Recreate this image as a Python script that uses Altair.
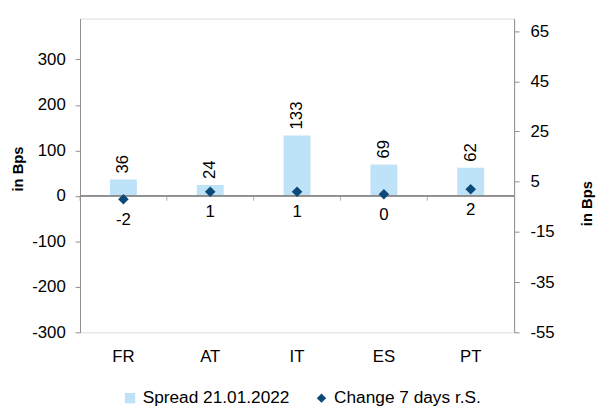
import altair as alt
import pandas as pd

countries = ["FR", "AT", "IT", "ES", "PT"]
spread = [36, 24, 133, 69, 62]
change = [-2, 1, 1, 0, 2]

left_ticks = [-300, -200, -100, 0, 100, 200, 300]
right_ticks = [-55, -35, -15, 5, 25, 45, 65]

SPREAD_LABEL = "Spread 21.01.2022"
CHANGE_LABEL = "Change 7 days r.S."

df = pd.DataFrame({
    "country": countries,
    "spread": spread,
    "change": change,
    "spread_txt": [str(v) for v in spread],
    "change_txt": [str(v) for v in change],
    "s1": SPREAD_LABEL,
    "s2": CHANGE_LABEL,
})

FONT = "Liberation Sans"
GRAY = "#8c8c8c"
BAR = "#BEE3F8"
DIA = "#0B4A78"

xenc = alt.X("country:N", sort=countries,
             scale=alt.Scale(paddingInner=0, paddingOuter=0),
             axis=alt.Axis(title=None, domain=False, ticks=False, tickSize=0,
                           labelAngle=0, labelPadding=17, labelFontSize=17,
                           labelFont=FONT, labelColor="#000"))

yleft = alt.Scale(domain=[-300, 390], nice=False, zero=False)
yright = alt.Scale(domain=[-55, 70], nice=False, zero=False)

left_axis = alt.Axis(title="in Bps", values=left_ticks, grid=False,
                     labelExpr="'' + datum.value",
                     domainColor=GRAY, tickColor=GRAY, tickSize=5,
                     labelPadding=10, labelFontSize=17, labelFont=FONT,
                     labelColor="#000", titleFont=FONT, titleFontSize=15,
                     titleFontWeight="bold", titleColor="#000",
                     titleX=-63, titleY=152, titleAngle=270,
                     titleAlign="center", titleBaseline="middle")

right_axis = alt.Axis(title="in Bps", orient="right", values=right_ticks, grid=False,
                      labelExpr="'' + datum.value",
                      domainColor=GRAY, tickColor=GRAY, tickSize=5,
                      labelPadding=11, labelFontSize=17, labelFont=FONT,
                      labelColor="#000", titleFont=FONT, titleFontSize=15,
                      titleFontWeight="bold", titleColor="#000",
                      titleX=73, titleY=187, titleAngle=270,
                      titleAlign="center", titleBaseline="middle")

base = alt.Chart(df)

bars = base.mark_bar(width=alt.RelativeBandSize(0.31)).encode(
    x=xenc,
    y=alt.Y("spread:Q", scale=yleft, axis=left_axis),
    color=alt.Color("s1:N", scale=alt.Scale(domain=[SPREAD_LABEL], range=[BAR]),
                    legend=alt.Legend(title=None, orient="none", legendX=42, legendY=376,
                                      symbolType="square", symbolSize=110,
                                      labelOffset=4,
                                      labelFontSize=17.5, labelFont=FONT,
                                      labelColor="#000", symbolStrokeWidth=0)),
)

bar_labels = base.mark_text(angle=270, align="left", baseline="middle", dx=6,
                            fontSize=17, font=FONT, color="#000").encode(
    x=alt.X("country:N", sort=countries),
    y=alt.Y("spread:Q", scale=yleft),
    text="spread_txt:N",
)

zero_rule = base.mark_rule(color=GRAY, strokeWidth=1).encode(
    y=alt.Y(datum=0, scale=yleft)
)

sep_ticks = base.mark_tick(orient="vertical", size=5, thickness=1, color=GRAY,
                           yOffset=2.5).encode(
    x=alt.X("country:N", sort=countries, bandPosition=0),
    y=alt.Y(datum=0, scale=yleft),
)

left_layer = alt.layer(bars, bar_labels, zero_rule, sep_ticks)

points = base.mark_point(shape="diamond", filled=True, size=115, opacity=1).encode(
    x=alt.X("country:N", sort=countries),
    y=alt.Y("change:Q", scale=yright, axis=right_axis),
    color=alt.Color("s2:N", scale=alt.Scale(domain=[CHANGE_LABEL], range=[DIA]),
                    legend=alt.Legend(title=None, orient="none", legendX=236, legendY=376,
                                      symbolType="diamond", symbolSize=90,
                                      labelOffset=4,
                                      labelFontSize=17.5, labelFont=FONT,
                                      labelColor="#000")),
)

point_labels = base.mark_text(align="center", baseline="middle", dy=21,
                              fontSize=17, font=FONT, color="#000").encode(
    x=alt.X("country:N", sort=countries),
    y=alt.Y("change:Q", scale=yright),
    text="change_txt:N",
)

right_layer = alt.layer(points, point_labels)

chart = alt.layer(left_layer, right_layer).resolve_scale(
    y="independent", color="independent"
).properties(
    width=440, height=318,
    autosize=alt.AutoSizeParams(type="none"),
    padding={"left": 73, "top": 8, "right": 83, "bottom": 74},
).configure_view(stroke=None).configure(background="white")

chart.save("out.html", embed_options={"renderer": "svg", "actions": False})
